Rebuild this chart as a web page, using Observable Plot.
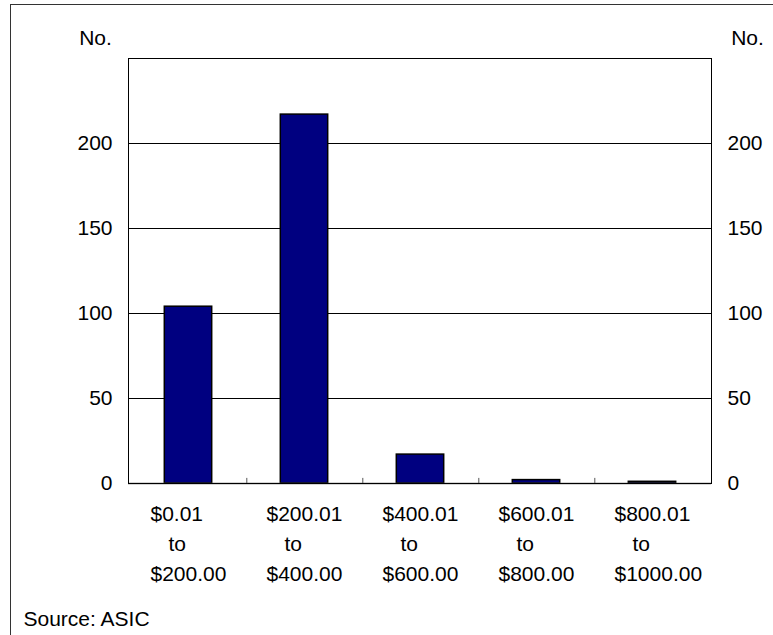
<!DOCTYPE html>
<html>
<head>
<meta charset="utf-8">
<script src="https://cdn.jsdelivr.net/npm/d3@7"></script>
<script src="https://cdn.jsdelivr.net/npm/@observablehq/plot@0.6"></script>
<style>
  html, body { margin: 0; padding: 0; background: #fff; }
  #wrap { position: relative; width: 773px; height: 635px; overflow: hidden; }
  #border { position: absolute; left: 10px; top: 4px; width: 800px; height: 700px;
            border-left: 1px solid #333; border-top: 1px solid #333; pointer-events: none; }
  svg { font-family: "Liberation Sans", Arial, sans-serif; }
</style>
</head>
<body>
<div id="wrap"><div id="border"></div></div>
<script>
const categories = ["$0.01 to $200.00", "$200.01 to $400.00", "$400.01 to $600.00", "$600.01 to $800.00", "$800.01 to $1000.00"];
const lineOne = ["$0.01", "$200.01", "$400.01", "$600.01", "$800.01"];
const lineTwo = ["to", "to", "to", "to", "to"];
const lineThree = ["$200.00", "$400.00", "$600.00", "$800.00", "$1000.00"];
const counts = [104, 217, 17, 2, 1];
const yTicks = [0, 50, 100, 150, 200];
const gridTicks = [50, 100, 150, 200];
const unitLabel = "No.";
const sourceText = "Source: ASIC";

const data = categories.map((c, i) => ({cat: c, value: counts[i], l1: lineOne[i], l2: lineTwo[i], l3: lineThree[i]}));

const W = 773, H = 635;
const mL = 128, mR = 62, mT = 58, mB = 152;
const band = (W - mL - mR) / categories.length;
const barW = 48;
const inset = (band - barW) / 2;

const chart = Plot.plot({
  width: W,
  height: H,
  marginLeft: mL,
  marginRight: mR,
  marginTop: mT,
  marginBottom: mB,
  style: {fontFamily: '"Liberation Sans", Arial, sans-serif', fontSize: "21px", color: "#000", background: "transparent"},
  x: {domain: categories, padding: 0, axis: null},
  y: {domain: [0, 250], axis: null},
  marks: [
    Plot.ruleY(gridTicks, {stroke: "#000", strokeWidth: 1}),
    Plot.barY(data, {x: "cat", y: "value", fill: "#000080", stroke: "#000", strokeWidth: 1.5, insetLeft: inset, insetRight: inset}),
    Plot.ruleY([0], {stroke: "#555", strokeWidth: 1.5}),
    Plot.ruleX(categories.slice(0, 4), {x: d => d, y1: 0, y2: 3, dx: band / 2, stroke: "#555"}),
    Plot.frame({stroke: "#000"}),
    Plot.axisY(yTicks, {anchor: "left", tickSize: 0, tickPadding: 16, label: null, fontSize: 21}),
    Plot.axisY(yTicks, {anchor: "right", tickSize: 0, tickPadding: 16, label: null, fontSize: 21}),
    Plot.text(data, {x: "cat", y: 0, text: "l1", textAnchor: "start", dx: -38, dy: 31, fontSize: 21}),
    Plot.text(data, {x: "cat", y: 0, text: "l2", textAnchor: "start", dx: -20, dy: 61, fontSize: 21}),
    Plot.text(data, {x: "cat", y: 0, text: "l3", textAnchor: "start", dx: -38, dy: 91, fontSize: 21}),
    Plot.text([unitLabel], {frameAnchor: "top-left", lineAnchor: "middle", text: d => d, textAnchor: "middle", dx: -33, dy: -20, fontSize: 21}),
    Plot.text([unitLabel], {frameAnchor: "top-right", lineAnchor: "middle", text: d => d, textAnchor: "middle", dx: 36, dy: -20, fontSize: 21}),
    Plot.text([sourceText], {frameAnchor: "bottom-left", lineAnchor: "middle", text: d => d, textAnchor: "start", dx: -105, dy: 136, fontSize: 21})
  ]
});
document.getElementById("wrap").prepend(chart);
</script>
</body>
</html>
